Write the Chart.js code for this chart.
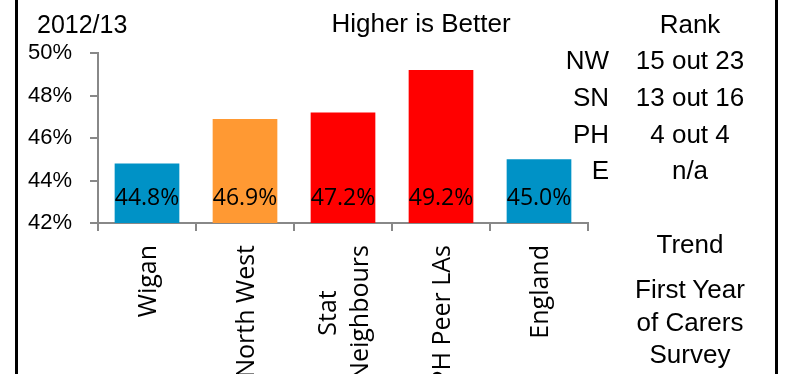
<!DOCTYPE html>
<html>
<head>
<meta charset="utf-8">
<script src="https://cdn.jsdelivr.net/npm/chart.js@4/dist/chart.umd.min.js"></script>
<style>
  body { margin: 0; background: #fff; }
  #wrap { position: relative; width: 798px; height: 374px; overflow: hidden; }
  #chart { position: absolute; left: 0; top: 0; width: 798px; height: 374px; }
  .t { position: absolute; font-family: "Liberation Sans", Arial, sans-serif; font-size: 26px; line-height: 26px; color: #000; white-space: nowrap; }
  .c { width: 200px; text-align: center; }
  .r { text-align: right; }
  .edge { position: absolute; top: 0; width: 3px; height: 374px; background: #000; }
</style>
</head>
<body>
<div id="wrap">
  <div id="chart"><canvas id="grafico"></canvas></div>
  <div class="edge" style="left:15px"></div>
  <div class="edge" style="left:775px"></div>
  <div id="notes"></div>
</div>
<script>
// data
const categorias = ['Wigan', 'North West', ['Stat', 'Neighbours'], 'PH Peer LAs', 'England'];
const valores = [44.8, 46.9, 47.2, 49.2, 45.0];
const cores = ['#0092c6', '#ff9933', '#ff0000', '#ff0000', '#0092c6'];
const grupos = ['NW', 'SN', 'PH', 'E'];
const posicoes = ['15 out 23', '13 out 16', '4 out 4', 'n/a'];
const tendencia = ['First Year', 'of Carers', 'Survey'];

// right hand notes as plain text
function nota(texto, cls, css) {
    const d = document.createElement('div');
    d.className = 't ' + cls;
    d.style.cssText = css;
    d.textContent = texto;
    document.getElementById('notes').appendChild(d);
    return d;
}
nota('2012/13', '', 'left:37px;top:11px;font-size:25px;');
nota('Higher is Better', 'c', 'left:321px;top:10px;');
nota('Rank', 'c', 'left:590px;top:11px;');
const linhas = [47, 84, 121, 157];
grupos.forEach((g, i) => {
    nota(g, 'r', 'right:189px;top:' + linhas[i] + 'px;');
    nota(posicoes[i], 'c', 'left:590px;top:' + linhas[i] + 'px;');
});
nota('Trend', 'c', 'left:590px;top:231px;');
const tr = nota('', 'c', 'left:590px;top:273px;line-height:32.5px;white-space:normal;');
tr.innerHTML = tendencia.join('<br>');

const rotulos = {
    id: 'rotulos',
    afterDraw(chart) {
        const c = chart.ctx;
        const xs = chart.scales.x;
        const ys = chart.scales.y;
        c.save();
        c.fillStyle = '#000';
        c.textBaseline = 'middle';
        c.textAlign = 'center';

        // value labels sitting low inside each bar
        c.font = '23px "Open Sans"';
        const base = ys.getPixelForValue(ys.min);
        valores.forEach((v, i) => {
            c.fillText(v.toFixed(1) + '%', xs.getPixelForValue(i), base - 25);
        });

        // rotated category labels
        c.font = '25px "Open Sans"';
        categorias.forEach((cat, i) => {
            const partes = [].concat(cat);
            const larg = Math.max(...partes.map(p => c.measureText(p).width));
            const px = xs.getPixelForValue(i) + 2;
            partes.forEach((p, j) => {
                c.save();
                c.translate(px + (j - (partes.length - 1) / 2) * 32, 245);
                c.rotate(-Math.PI / 2);
                c.fillText(p, -larg / 2, 0);
                c.restore();
            });
        });
        c.restore();
    }
};

new Chart(document.getElementById('grafico'), {
    type: 'bar',
    data: {
        labels: categorias,
        datasets: [{
            data: valores,
            backgroundColor: cores,
            borderWidth: 0,
            barPercentage: 0.66,
            categoryPercentage: 1
        }]
    },
    options: {
        responsive: true,
        maintainAspectRatio: false,
        animation: false,
        layout: { padding: { left: 0, top: 53, right: 210, bottom: 0 } },
        plugins: { legend: { display: false }, tooltip: { enabled: false } },
        scales: {
            x: {
                grid: { drawOnChartArea: false, drawTicks: true, tickLength: 8, color: '#888', lineWidth: 2 },
                border: { color: '#888', width: 2 },
                ticks: { display: false },
                afterFit(s) { s.height = 151; }
            },
            y: {
                min: 42,
                max: 50,
                grid: { drawOnChartArea: false, drawTicks: true, tickLength: 8, color: '#888', lineWidth: 2 },
                border: { color: '#888', width: 2 },
                ticks: {
                    stepSize: 2,
                    padding: 18,
                    color: '#000',
                    font: { family: '"Liberation Sans", Arial', size: 22 },
                    callback: v => v + '%'
                },
                afterFit(s) { s.width = 98; }
            }
        }
    },
    plugins: [rotulos]
});
</script>
</body>
</html>
